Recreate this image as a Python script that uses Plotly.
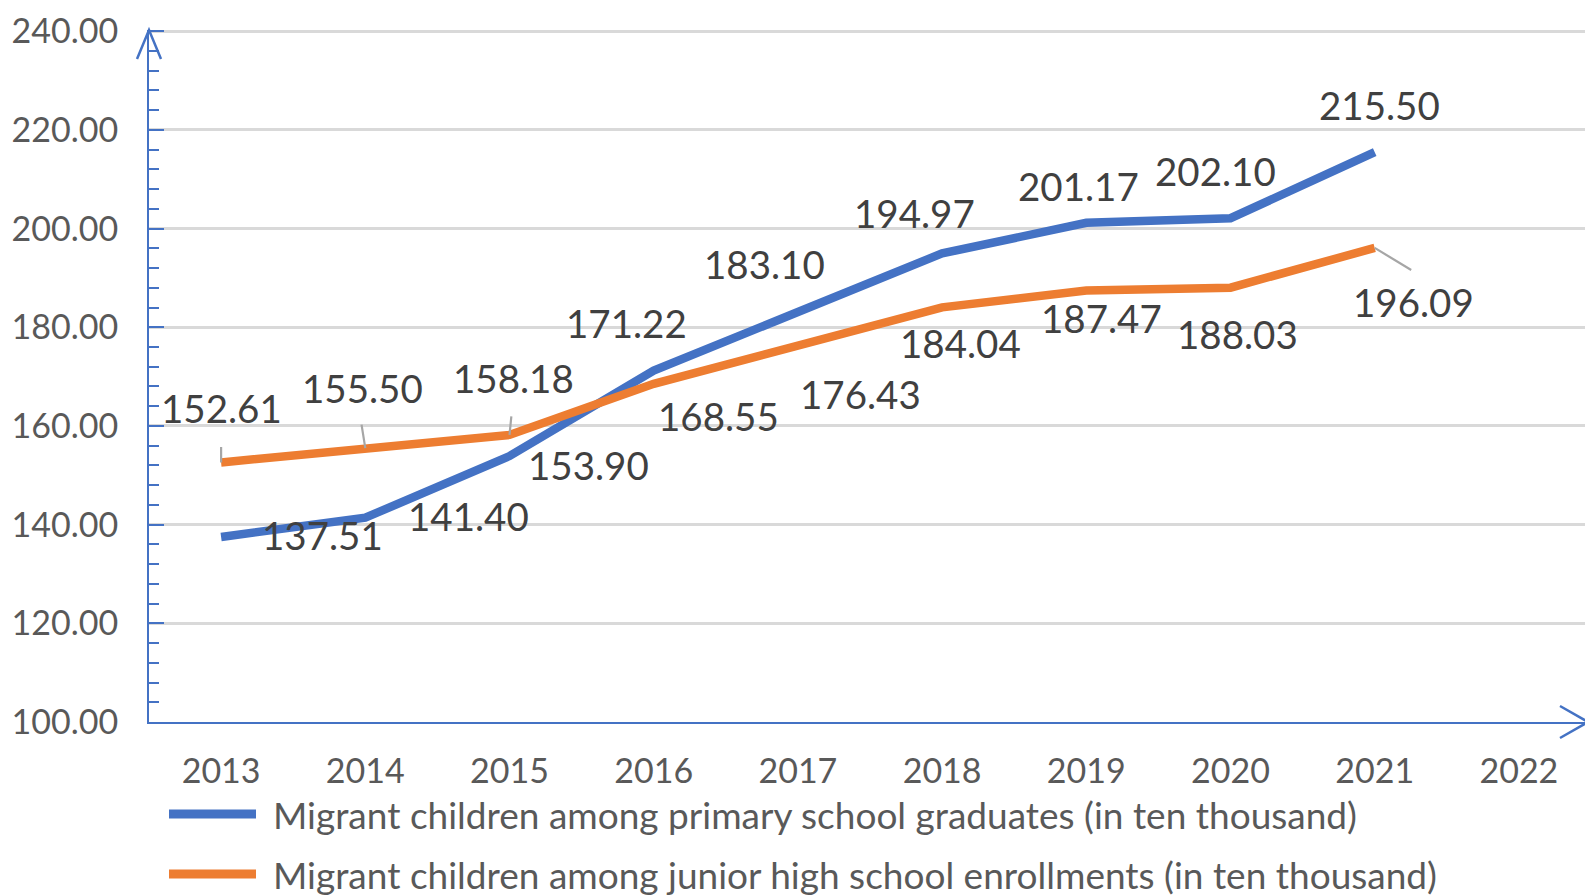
import plotly.graph_objects as go

# ---------------- data ----------------
years = ["2013", "2014", "2015", "2016", "2017", "2018", "2019", "2020", "2021", "2022"]
primary_graduates = [137.51, 141.40, 153.90, 171.22, 183.10, 194.97, 201.17, 202.10, 215.50]
junior_enrollments = [152.61, 155.50, 158.18, 168.55, 176.43, 184.04, 187.47, 188.03, 196.09]
series_names = [
    "Migrant children among primary school graduates (in ten thousand)",
    "Migrant children among junior high school enrollments (in ten thousand)",
]
y_ticks = [100, 120, 140, 160, 180, 200, 220, 240]

# ---------------- style ----------------
FONT = "Lato"
BLUE = "#4472C4"
ORANGE = "#ED7D31"
AXIS = "#4472C4"
GRID = "#D9D9D9"
TXT = "#595959"
LBL = "#404040"
LEADER = "#A6A6A6"

# label pixel offsets (dx right, dy down) relative to each point
blue_off = [(101, 1), (103, 1), (79, 12), (-27, -45), (-33, -45), (-28, -37), (-8, -34), (-15, -44), (5, -44)]
orange_off = [(0, -51), (-3, -57), (4, -54), (65, 35), (63, 52), (18, 39), (15, 31), (7, 49), (39, 57)]
# leader lines for some orange labels: index -> tail offset (dx, dy) from point
orange_leaders = {0: (0, -17), 1: (-4, -25), 2: (2, -20), 8: (38, 23)}

fig = go.Figure()
fig.add_trace(go.Scatter(x=years[:len(primary_graduates)], y=primary_graduates, mode="lines",
                         name=series_names[0], line=dict(color=BLUE, width=8.5), showlegend=False))
fig.add_trace(go.Scatter(x=years[:len(junior_enrollments)], y=junior_enrollments, mode="lines",
                         name=series_names[1], line=dict(color=ORANGE, width=8.5), showlegend=False))

annotations = []
corr = 3  # visual centring correction for digits
for vals, offs in ((primary_graduates, blue_off), (junior_enrollments, orange_off)):
    for i, v in enumerate(vals):
        dx, dy = offs[i]
        # category axes place annotations by category index
        annotations.append(dict(x=i, y=v, xref="x", yref="y", text=f"{v:.2f}",
                                showarrow=False, xshift=dx, yshift=-dy + corr,
                                font=dict(family=FONT, size=38.5, color=LBL)))
for i, (dx, dy) in orange_leaders.items():
    annotations.append(dict(x=i, y=junior_enrollments[i], xref="x", yref="y", text="",
                            showarrow=True, arrowhead=0, arrowwidth=2.2, arrowcolor=LEADER,
                            ax=dx, ay=dy, axref="pixel", ayref="pixel"))

# legend (custom)
shapes = []
for k, (col, name) in enumerate(((BLUE, series_names[0]), (ORANGE, series_names[1]))):
    yp = -92 - 60 * k
    shapes.append(dict(type="line", xref="paper", yref="paper", xsizemode="pixel", ysizemode="pixel",
                       xanchor=0, yanchor=0, x0=20, x1=107, y0=yp, y1=yp,
                       line=dict(color=col, width=9)))
    annotations.append(dict(xref="paper", yref="paper", x=0, y=0, xshift=122, yshift=yp,
                            xanchor="left", yanchor="middle", showarrow=False, text=name,
                            font=dict(family=FONT, size=37, color=TXT)))

# axis arrow heads
shapes.append(dict(type="path", xref="paper", yref="paper", xsizemode="pixel", ysizemode="pixel",
                   xanchor=0, yanchor=1, path="M -12,-29 L 0,0 L 12,-29",
                   line=dict(color=AXIS, width=2.5)))
shapes.append(dict(type="path", xref="paper", yref="paper", xsizemode="pixel", ysizemode="pixel",
                   xanchor=1, yanchor=0, path="M -31,16 L -3,0 L -31,-16",
                   line=dict(color=AXIS, width=2.5)))

fig.update_layout(
    width=1593, height=895,
    margin=dict(l=141, r=10, t=22, b=181),
    paper_bgcolor="white", plot_bgcolor="white",
    font=dict(family=FONT, color=TXT),
    annotations=annotations, shapes=shapes,
    showlegend=False,
    xaxis=dict(type="category", categoryorder="array", categoryarray=years,
               range=[-0.5, len(years) - 0.5], showgrid=False, zeroline=False,
               showline=True, linecolor=AXIS, linewidth=2, ticks="", automargin=False,
               tickfont=dict(family=FONT, size=34, color=TXT), ticklabelstandoff=18),
    yaxis=dict(range=[100, 240.25], tickvals=y_ticks, tickformat=".2f", showgrid=True,
               gridcolor=GRID, gridwidth=3, zeroline=False, showline=True, linecolor=AXIS,
               linewidth=2, ticks="inside", ticklen=15, tickwidth=2, tickcolor=AXIS,
               automargin=False,
               minor=dict(ticks="inside", ticklen=10, tickwidth=2, tickcolor=AXIS, dtick=4,
                          showgrid=False),
               tickfont=dict(family=FONT, size=34, color=TXT), ticklabelstandoff=22),
)

fig.write_html("out.html")
